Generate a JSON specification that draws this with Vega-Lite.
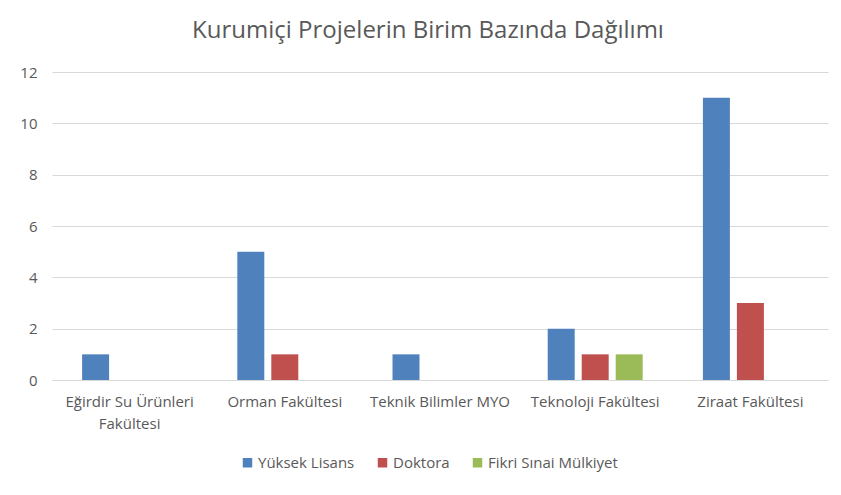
{
  "$schema": "https://vega.github.io/schema/vega-lite/v6.json",
  "width": 776,
  "height": 308,
  "autosize": "none",
  "padding": {"left": 52, "top": 72, "right": 13, "bottom": 115},
  "background": "white",
  "title": {
    "text": "Kurumiçi Projelerin Birim Bazında Dağılımı",
    "font": "Open Sans",
    "fontSize": 24,
    "fontWeight": "normal",
    "color": "#595959",
    "anchor": "middle",
    "dx": -12,
    "offset": 22
  },
  "data": {
    "values": [
      {"birim": "Eğirdir Su Ürünleri Fakültesi", "tur": "Yüksek Lisans", "sayi": 1},
      {"birim": "Orman Fakültesi", "tur": "Yüksek Lisans", "sayi": 5},
      {"birim": "Orman Fakültesi", "tur": "Doktora", "sayi": 1},
      {"birim": "Teknik Bilimler MYO", "tur": "Yüksek Lisans", "sayi": 1},
      {"birim": "Teknoloji Fakültesi", "tur": "Yüksek Lisans", "sayi": 2},
      {"birim": "Teknoloji Fakültesi", "tur": "Doktora", "sayi": 1},
      {"birim": "Teknoloji Fakültesi", "tur": "Fikri Sınai Mülkiyet", "sayi": 1},
      {"birim": "Ziraat Fakültesi", "tur": "Yüksek Lisans", "sayi": 11},
      {"birim": "Ziraat Fakültesi", "tur": "Doktora", "sayi": 3}
    ]
  },
  "mark": {"type": "bar"},
  "encoding": {
    "x": {
      "field": "birim",
      "type": "nominal",
      "sort": ["Eğirdir Su Ürünleri Fakültesi", "Orman Fakültesi", "Teknik Bilimler MYO", "Teknoloji Fakültesi", "Ziraat Fakültesi"],
      "scale": {"paddingInner": 0.388, "paddingOuter": 0.194},
      "axis": {
        "title": null,
        "labelAngle": 0,
        "ticks": false,
        "domainColor": "#d9d9d9",
        "domainWidth": 1,
        "labelFont": "Open Sans",
        "labelFontSize": 15,
        "labelColor": "#595959",
        "labelPadding": 14,
        "labelLineHeight": 22,
        "labelLimit": 0,
        "labelExpr": "datum.label == 'Eğirdir Su Ürünleri Fakültesi' ? ['Eğirdir Su Ürünleri', 'Fakültesi'] : datum.label"
      }
    },
    "xOffset": {
      "field": "tur",
      "type": "nominal",
      "sort": ["Yüksek Lisans", "Doktora", "Fikri Sınai Mülkiyet"],
      "scale": {"paddingInner": 0.206, "paddingOuter": 0}
    },
    "y": {
      "field": "sayi",
      "type": "quantitative",
      "scale": {"domain": [0, 12], "nice": false},
      "axis": {
        "title": null,
        "values": [0, 2, 4, 6, 8, 10, 12],
        "ticks": false,
        "domain": false,
        "gridColor": "#d9d9d9",
        "gridWidth": 1,
        "labelFont": "Open Sans",
        "labelFontSize": 15,
        "labelColor": "#595959",
        "labelPadding": 15
      }
    },
    "color": {
      "field": "tur",
      "type": "nominal",
      "sort": ["Yüksek Lisans", "Doktora", "Fikri Sınai Mülkiyet"],
      "scale": {
        "domain": ["Yüksek Lisans", "Doktora", "Fikri Sınai Mülkiyet"],
        "range": ["#4F81BD", "#C0504D", "#9BBB59"]
      },
      "legend": {
        "title": null,
        "orient": "none",
        "direction": "horizontal",
        "legendX": 188,
        "legendY": 383,
        "symbolType": "square",
        "symbolSize": 90,
        "symbolStrokeWidth": 0,
        "labelFont": "Open Sans",
        "labelFontSize": 15,
        "labelColor": "#595959",
        "labelOffset": 3,
        "columnPadding": 20
      }
    }
  },
  "config": {
    "view": {"stroke": null}
  }
}
